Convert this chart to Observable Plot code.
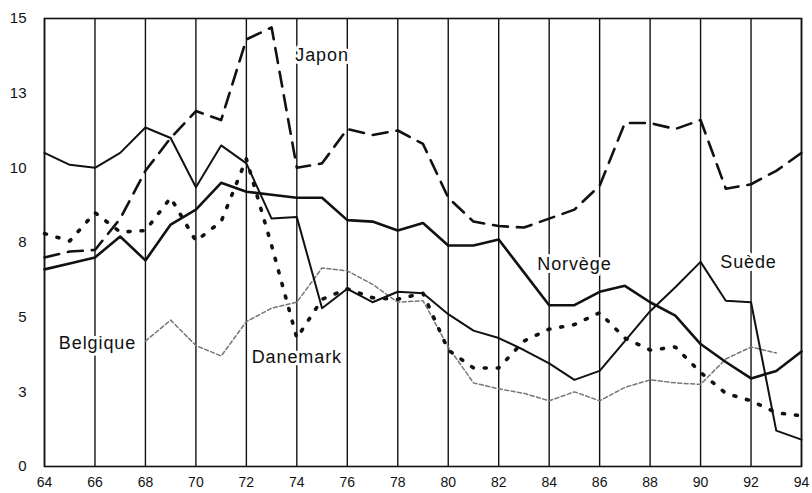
<!DOCTYPE html>
<html><head><meta charset="utf-8">
<script src="https://cdn.jsdelivr.net/npm/d3@7"></script>
<script src="https://cdn.jsdelivr.net/npm/@observablehq/plot@0.6"></script>
<style>
body{margin:0;background:#fff}
#chart svg g[aria-label="text"] text{letter-spacing:0.9px}
</style>
</head><body><div id="chart"></div>
<script>
// Years 1964-1994 (two-digit labels)
const years = d3.range(64, 95);
const xTicks = [64,66,68,70,72,74,76,78,80,82,84,86,88,90,92,94];
const yTicks = [0,2.5,5,7.5,10,12.5,15];

const japon    = [7.0,7.2,7.25,8.3,9.9,11.0,11.9,11.6,14.3,14.7,10.0,10.15,11.3,11.1,11.25,10.8,9.0,8.2,8.05,8.0,8.3,8.6,9.4,11.5,11.5,11.3,11.6,9.3,9.45,9.9,10.5];
const norvege  = [6.6,6.8,7.0,7.7,6.9,8.1,8.6,9.5,9.2,9.1,9.0,9.0,8.25,8.2,7.9,8.15,7.4,7.4,7.6,6.5,5.4,5.4,5.85,6.05,5.5,5.05,4.1,3.5,2.95,3.2,3.85];
const suede    = [10.5,10.1,10.0,10.5,11.35,11.0,9.35,10.75,10.15,8.3,8.35,5.3,5.95,5.5,5.85,5.8,5.1,4.55,4.3,3.9,3.45,2.9,3.2,4.2,5.2,6.0,6.85,5.55,5.5,1.2,0.9];
const danemark = [7.8,7.55,8.5,7.85,7.9,9.0,7.55,8.2,10.3,7.4,4.3,5.6,5.95,5.65,5.6,5.8,3.9,3.3,3.3,4.2,4.6,4.75,5.15,4.3,3.9,4.0,3.15,2.45,2.2,1.8,1.7];
// Belgique: 1968-1993
const belgiqueYears = d3.range(68, 94);
const belgique = [4.2,4.9,4.05,3.7,4.85,5.3,5.5,6.65,6.55,6.1,5.5,5.55,4.0,2.8,2.6,2.45,2.2,2.5,2.2,2.65,2.9,2.8,2.75,3.6,4.0,3.8];

const labelNames = ["Japon","Norvège","Suède","Belgique","Danemark"];
const labelX = [75.0, 85.0, 91.9, 66.1, 74.0];
const labelY = [13.76, 6.76, 6.83, 4.12, 3.65];

const toRows = (xs, vs) => xs.map((x, i) => ({year: x, value: vs[i]}));
const labels = labelNames.map((t, i) => ({text: t, x: labelX[i], y: labelY[i]}));

const chart = Plot.plot({
  width: 812, height: 493,
  marginLeft: 44, marginRight: 11, marginTop: 18, marginBottom: 27,
  style: {fontFamily: "'Liberation Sans', Arial, sans-serif", fontSize: "15px", color: "#111", background: "#fff"},
  x: {domain: [64, 94], label: null},
  y: {domain: [0, 15], label: null},
  marks: [
    Plot.ruleX(xTicks, {stroke: "#111", strokeWidth: 1.4}),
    Plot.frame({stroke: "#111", strokeWidth: 1.6}),
    Plot.axisX({ticks: xTicks, tickFormat: d => String(d), tickSize: 0, tickPadding: 11, fontSize: 14, label: null}),
    Plot.axisY({ticks: yTicks, tickFormat: d => String(Math.round(d)), tickSize: 0, tickPadding: 18, fontSize: 15, label: null}),
    Plot.line(toRows(belgiqueYears, belgique), {x: "year", y: "value", stroke: "#777", strokeWidth: 1.5, strokeDasharray: "4,2.5"}),
    Plot.line(toRows(years, danemark), {x: "year", y: "value", stroke: "#111", strokeWidth: 3.6, strokeDasharray: "2,11", strokeLinecap: "round"}),
    Plot.line(toRows(years, suede), {x: "year", y: "value", stroke: "#111", strokeWidth: 2}),
    Plot.line(toRows(years, norvege), {x: "year", y: "value", stroke: "#111", strokeWidth: 2.6}),
    Plot.line(toRows(years, japon), {x: "year", y: "value", stroke: "#111", strokeWidth: 2.6, strokeDasharray: "15,9"}),
    Plot.text(labels, {x: "x", y: "y", text: "text", fontSize: 18, fill: "#111", stroke: "white", strokeWidth: 6, textAnchor: "middle"})
  ]
});
document.getElementById("chart").append(chart);
</script>
</body></html>
